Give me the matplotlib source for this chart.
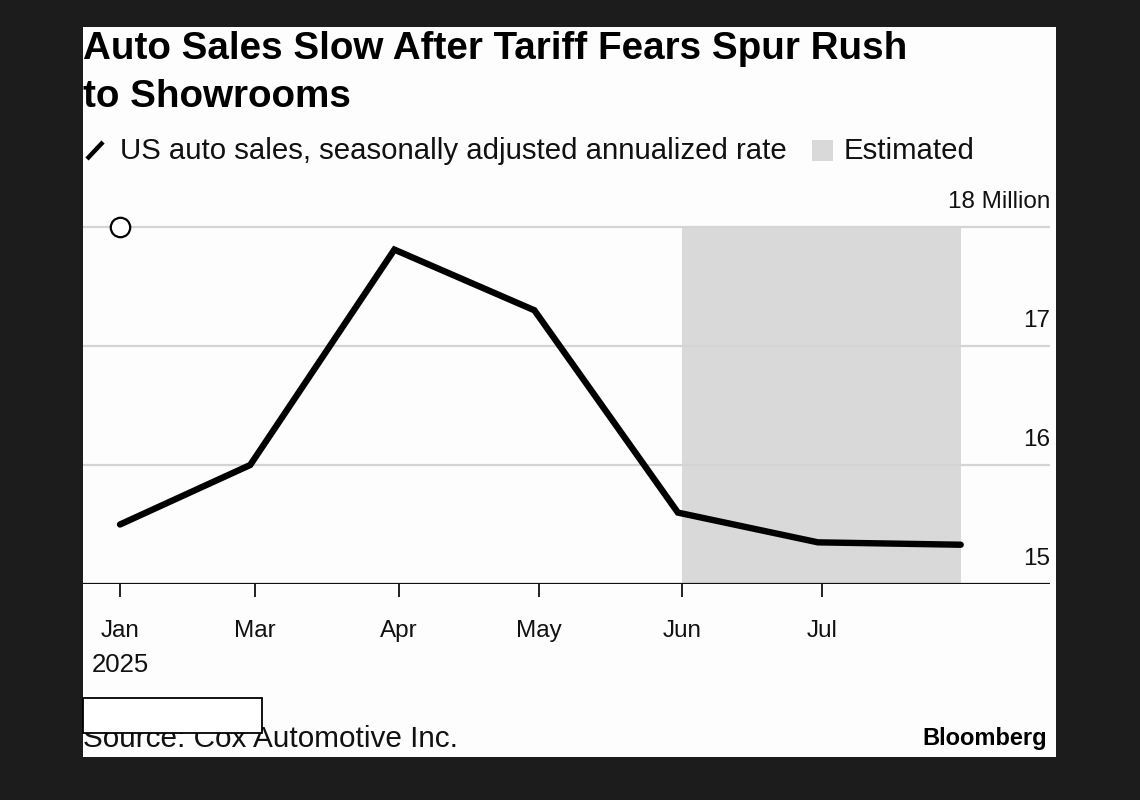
import matplotlib
matplotlib.use("Agg")
import matplotlib.pyplot as plt
from matplotlib.patches import Rectangle
from matplotlib.lines import Line2D

# ---- data ----
x_vals = [0.0, 0.93, 1.96, 2.96, 3.985, 4.985, 6.005]
sales = [15.50, 16.00, 17.81, 17.30, 15.60, 15.35, 15.33]
tick_x = [0.0, 0.965, 1.99, 2.99, 4.015, 5.015]
tick_labels = ["Jan", "Mar", "Apr", "May", "Jun", "Jul"]
est_start, est_end = 4.015, 6.005
y_ticks = [15, 16, 17, 18]
y_labels = ["15", "16", "17", "18 Million"]
marker_point = (0.0, 18.0)

W, H = 1140, 800
FONT = "Liberation Sans"
plt.rcParams["font.family"] = [FONT, "DejaVu Sans"]

fig = plt.figure(figsize=(W / 100, H / 100), dpi=100, facecolor="#1c1c1c")

def fx(px):
    return px / W

def fy(py):
    return 1 - py / H

# white panel
fig.patches.append(Rectangle((fx(83), fy(757)), fx(1056) - fx(83), fy(27) - fy(757),
                             transform=fig.transFigure, facecolor="#fdfdfd",
                             edgecolor="none", zorder=-5))

# axes: left 83 px, right 1050 px, bottom 584 px (15), top 197.25 px
ax = fig.add_axes([fx(83), fy(584), fx(1050) - fx(83), (584 - 197.25) / H])
ax.set_zorder(2)
ax.set_facecolor("none")
ax.set_xlim(-37 / 140, 930 / 140)
ax.set_ylim(15, 18.25)

# shaded estimated region
ax.axvspan(est_start, est_end, ymin=0, ymax=3 / 3.25, color="#d9d9d9", lw=0, zorder=1)

# gridlines
for yv in y_ticks[1:]:
    ax.axhline(yv, color="#d4d4d4", lw=1.6, zorder=2)
ax.axhline(15, color="#111111", lw=1.6, zorder=4)

# line
ax.plot(x_vals, sales, color="black", lw=4.6, solid_capstyle="round",
        solid_joinstyle="miter", zorder=5)
ax.plot([marker_point[0]], [marker_point[1]], marker="o", ms=14, mfc="white",
        mec="black", mew=1.6, zorder=6, clip_on=False)

for s in ax.spines.values():
    s.set_visible(False)
ax.set_yticks([])
ax.set_xticks(tick_x)
ax.set_xticklabels(tick_labels, fontsize=17.5, color="#111111")
ax.tick_params(axis="x", length=9, width=1.3, color="#111111", pad=17)

# y labels on right above gridlines
for yv, lab in zip(y_ticks, y_labels):
    ax.annotate(lab, xy=(1.0, yv), xycoords=("axes fraction", "data"),
                xytext=(0, 10), textcoords="offset points",
                ha="right", va="bottom", fontsize=17.5, color="#111111")

# year label
ax.annotate("2025", xy=(0.0, 15), xycoords="data", xytext=(0, -50),
            textcoords="offset points", ha="center", va="top", fontsize=18.5,
            color="#111111")

# title
fig.text(fx(83), fy(49), "Auto Sales Slow After Tariff Fears Spur Rush",
         fontsize=27.8, fontweight="bold", ha="left", va="center", color="black")
fig.text(fx(83), fy(97), "to Showrooms",
         fontsize=27.8, fontweight="bold", ha="left", va="center", color="black")

# legend
fig.lines.append(Line2D([fx(87), fx(103)], [fy(159), fy(142)], transform=fig.transFigure,
                        color="black", lw=3.2, solid_capstyle="butt"))
fig.text(fx(120), fy(151), "US auto sales, seasonally adjusted annualized rate",
         fontsize=21.2, ha="left", va="center", color="#111111")
fig.patches.append(Rectangle((fx(812), fy(161)), fx(833) - fx(812), fy(140) - fy(161),
                             transform=fig.transFigure, facecolor="#d9d9d9",
                             edgecolor="none"))
fig.text(fx(844), fy(151), "Estimated", fontsize=21.2, ha="left", va="center",
         color="#111111")

# footer
fig.text(fx(83), fy(739), "Source: Cox Automotive Inc.", fontsize=21.4,
         ha="left", va="center", color="#111111", zorder=1)
fig.patches.append(Rectangle((fx(83), fy(733)), fx(262) - fx(83), fy(698) - fy(733),
                             transform=fig.transFigure, facecolor="white",
                             edgecolor="black", lw=1.3, zorder=5))
fig.text(fx(1047), fy(739), "Bloomberg", fontsize=17, fontweight="bold",
         ha="right", va="center", color="black")

fig.savefig("out.png", dpi=100, facecolor=fig.get_facecolor())
